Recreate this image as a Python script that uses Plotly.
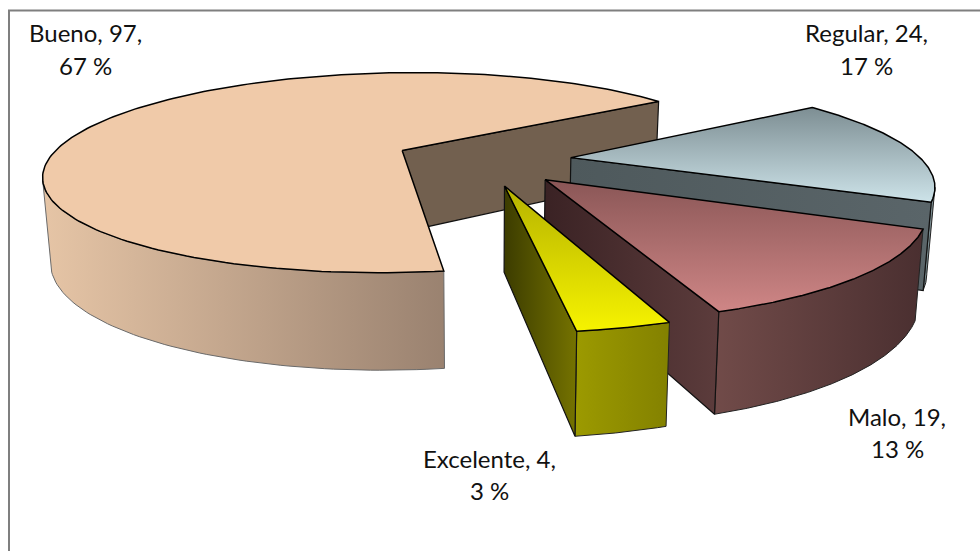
import numpy as np
import plotly.graph_objects as go

categories = ["Bueno", "Regular", "Malo", "Excelente"]
values = [97, 24, 19, 4]
percents = ["67 %", "17 %", "13 %", "3 %"]

# fitted camera of the tilted pie (plane to screen)
P0, P1, P2 = 482.64087, 365.54347, -59.28695
Q0, Q1, Q2 = 160.07755, -8.07064, 62.47821
K, M = 0.22489, -0.03386
EXPLODE = 0.25309
START = 179.66998
RIM_NUDGE = [(0, 0), (0, 0), (0, -0.8), (-0.8, 0.7)]

label_x = [85, 866, 897, 489]
label_y1 = [32, 32, 416, 458]
label_y2 = [65, 65, 448, 490]

top_colors = [["#f0caa9", "#f0caa9"], ["#cde3e9", "#7d8e93"], ["#cf8686", "#8a5656"], ["#f6f300", "#b5b200"]]
face_colors = [["#72604f", "#72604f"], ["#4e595c", "#5a6569"], ["#3a2224", "#5c3c3c"], ["#3c3c00", "#757300"]]
side_colors = [["#e6c5a6", "#9a8270"], ["#74868a", "#7f9195"], ["#714b49", "#4a2f30"], ["#9c9a00", "#838100"]]

frac = np.cumsum([0] + values) / sum(values) * 360 + START
starts, ends = frac[:-1], frac[1:]


def project(i, phi=None):
    mid = np.radians((starts[i] + ends[i]) / 2)
    U = EXPLODE * np.sin(mid)
    V = -EXPLODE * np.cos(mid)
    if phi is not None:
        U = U + np.sin(np.radians(phi))
        V = V - np.cos(np.radians(phi))
    w = 1 - K * V - M * U
    return (P0 + P1 * U + P2 * V) / w, (Q0 + Q1 * U + Q2 * V) / w


def lower(x, y):
    x = np.asarray(x, float)
    y = np.asarray(y, float)
    return 482 + (x - 482) * 0.982, y + 62 + 0.13 * y


def poly(fig, x, y, colors, kind, width=1.0, line="#111111"):
    x = list(x) + [x[0]]
    y = list(y) + [y[0]]
    if colors[0] == colors[1]:
        fill = dict(fillcolor=colors[0])
    else:
        fill = dict(fillgradient=dict(type=kind, colorscale=[[0, colors[0]], [1, colors[1]]]))
    fig.add_trace(go.Scatter(x=x, y=y, mode="lines", fill="toself", hoverinfo="skip",
                             line=dict(color=line, width=width), **fill))


fig = go.Figure()
circle = np.arange(0, 360, 0.25)
for i in range(4):
    s = starts[i] + RIM_NUDGE[i][0]
    e = ends[i] + RIM_NUDGE[i][1]
    phis = np.linspace(s, e, 200)
    rx, ry = project(i, phis)
    ax, ay = project(i)
    # outer wall: the part between the two silhouette angles that faces the viewer
    cx, _ = project(i, circle)
    right, left = circle[np.argmax(cx)], circle[np.argmin(cx)]
    wrapped = phis % 360
    vis = phis[(wrapped >= right) & (wrapped <= left)]
    vx, vy = project(i, vis)
    bx, by = lower(vx, vy)
    poly(fig, np.r_[vx, bx[::-1]], np.r_[vy, by[::-1]], side_colors[i], "horizontal", 1.0, "#222222" if i else "#6a6a6a")
    # cut face at the clockwise end of the slice
    ex, ey = project(i, e)
    bex, bey = lower(ex, ey)
    bax, bay = lower(ax, ay)
    poly(fig, [ax, ex, bex, bax], [ay, ey, bey, bay], face_colors[i], "horizontal", 1.2)
    # top
    poly(fig, np.r_[ax, rx], np.r_[ay, ry], top_colors[i], "vertical", 1.5, "#000000")

for i, c in enumerate(categories):
    fig.add_annotation(x=label_x[i], y=label_y1[i], text=f"{c}, {values[i]},", showarrow=False,
                       font=dict(family="Lato", size=24, color="#111111"))
    fig.add_annotation(x=label_x[i], y=label_y2[i], text=percents[i], showarrow=False,
                       font=dict(family="Lato", size=24, color="#111111"))

fig.add_shape(type="rect", x0=9, y0=10.5, x1=1100, y1=1100, line=dict(color="#7f7f7f", width=2), layer="below")
fig.update_layout(width=980, height=551, margin=dict(l=0, r=0, t=0, b=0), showlegend=False,
                  paper_bgcolor="white", plot_bgcolor="white",
                  xaxis=dict(range=[0, 980], visible=False),
                  yaxis=dict(range=[551, 0], visible=False))
fig.write_html("out.html", config={"displayModeBar": False}, post_script="document.body.style.margin='0';")
